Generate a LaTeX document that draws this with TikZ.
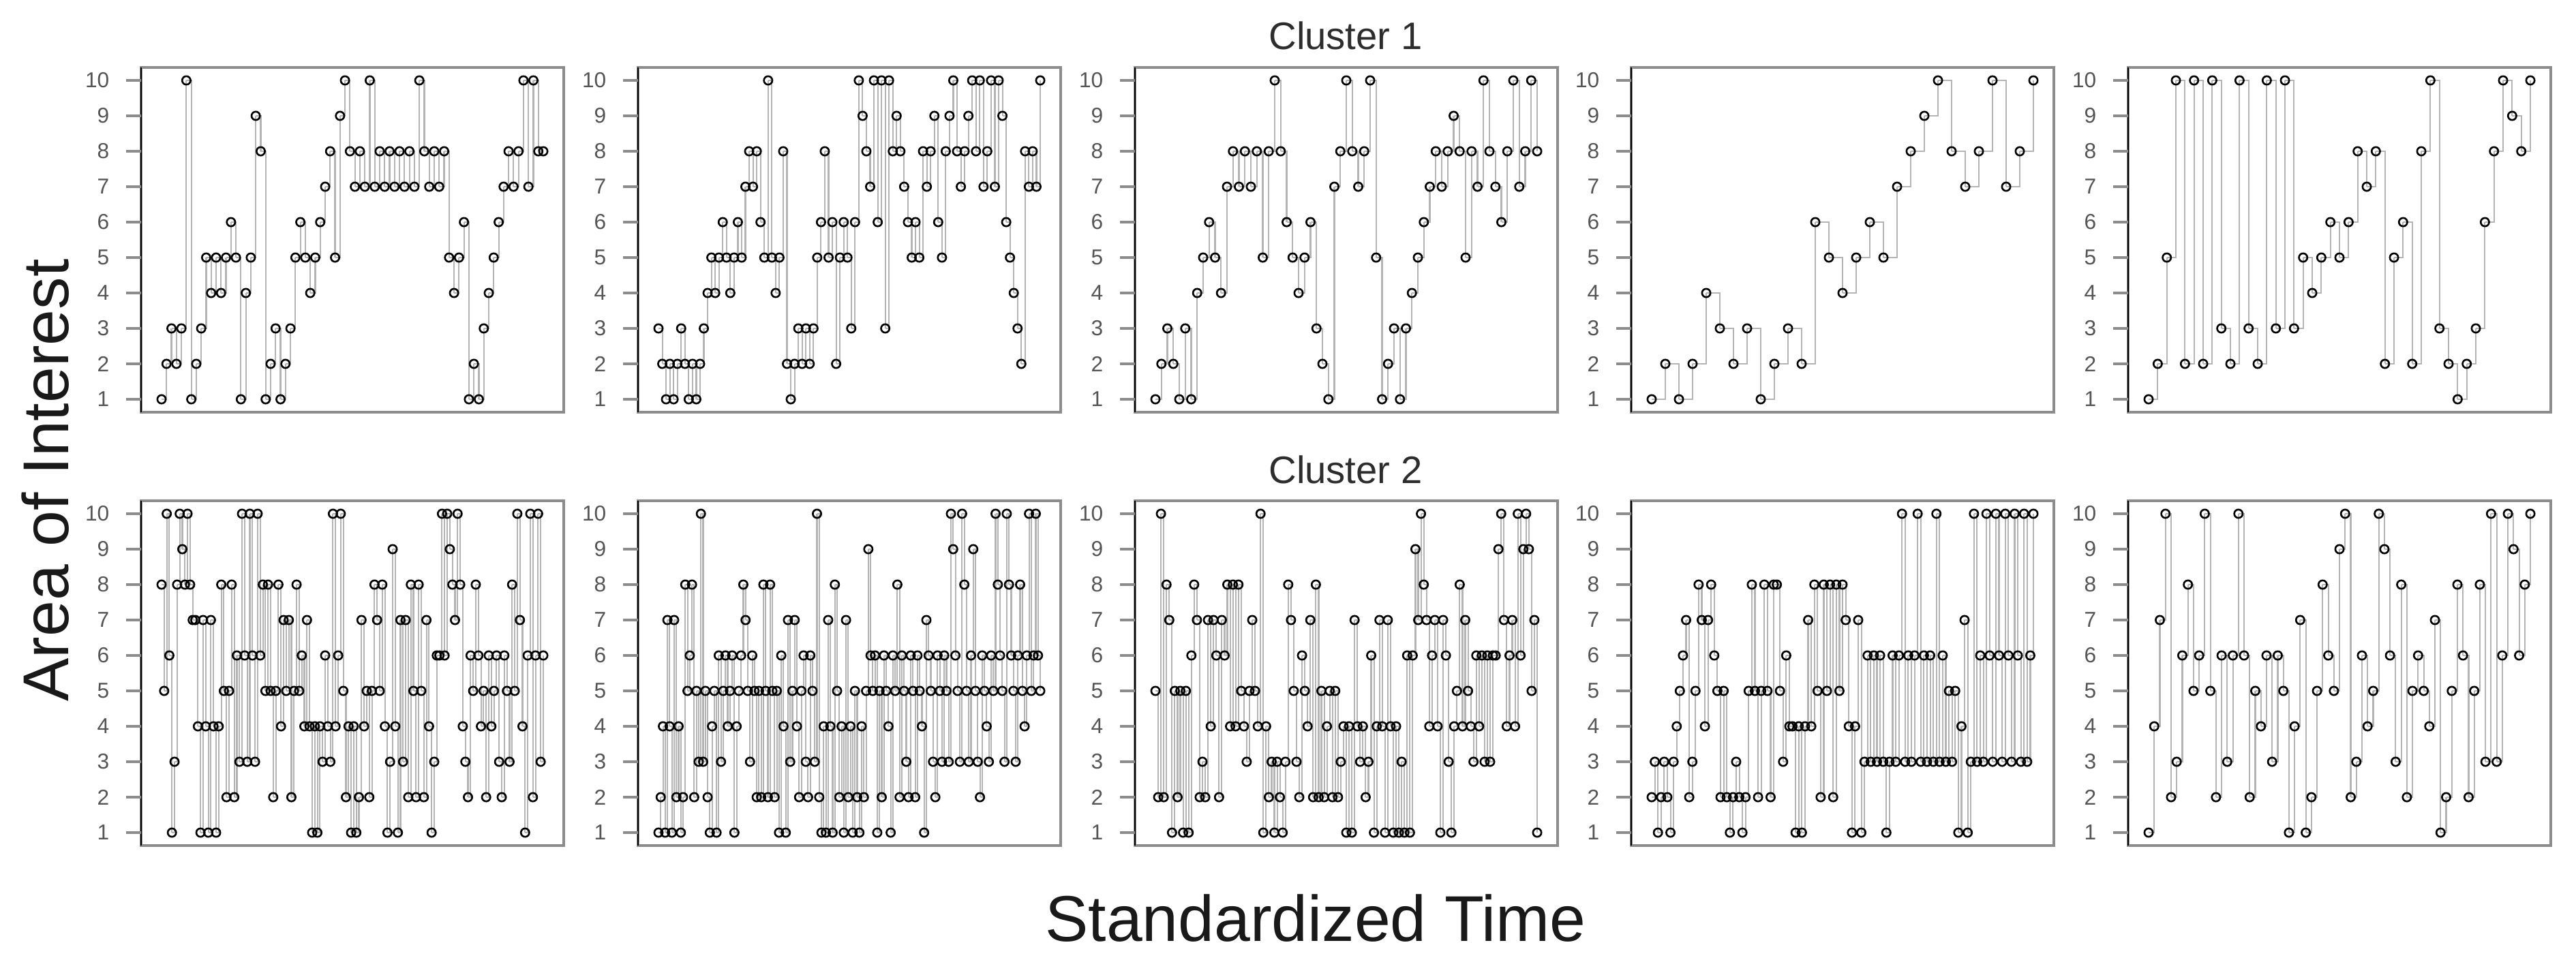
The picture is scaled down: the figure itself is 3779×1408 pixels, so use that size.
\documentclass[tikz,border=0pt]{standalone}
\usepackage{fontspec}
\setmainfont{Liberation Sans}
\definecolor{tickgray}{RGB}{85,85,85}
\definecolor{framegray}{RGB}{140,140,140}
\definecolor{stepgray}{RGB}{180,180,180}
\definecolor{titlegray}{RGB}{45,45,45}
\newcount\aoicount
\newcommand\aoipanel[4]{%
    \global\aoicount=0
    \foreach \v in {#4} {\global\advance\aoicount by 1}
    \pgfmathsetmacro\aoistep{560/(\the\aoicount-1)}
    \foreach \v [count=\i, remember=\v as \lastv (initially 1)] in {#4} {
        \ifnum\i>1
            \draw[stepline] ({#2+30+(\i-2)*\aoistep},{#3+(10-\lastv)*52}) -| ({#2+30+(\i-1)*\aoistep},{#3+(10-\v)*52});
        \fi
    }
    \foreach \v [count=\i] in {#4}
        \draw[aoipoint] ({#2+30+(\i-1)*\aoistep},{#3+(10-\v)*52}) circle[radius=1.75pt];
    \draw[panelframe] (#2,{#3-19}) rectangle ({#2+620},{#3+487});
    \draw[leftaxis] (#2,{#3-19}) -- (#2,{#3+487});
    \foreach \t in {1,...,10} {
        \draw[ytick] ({#2-22},{#3+(10-\t)*52}) -- (#2,{#3+(10-\t)*52});
        \node[ticklabel] (#1-\t) at ({#2-46},{#3+(10-\t)*52}) {\t};
    }
}
\begin{document}
\begin{tikzpicture}[x=0.01cm, y=-0.01cm,
            stepline/.style = {draw=stepgray, line width=0.6pt},
            aoipoint/.style = {draw=black, line width=0.75pt},
            panelframe/.style = {draw=framegray, line width=1.3pt},
            leftaxis/.style = {draw=black, line width=0.7pt},
            ytick/.style = {draw=framegray, line width=1.1pt},
            ticklabel/.style = {anchor=east, inner sep=0pt, text=tickgray, font=\fontsize{9}{10}\selectfont},
            paneltitle/.style = {inner sep=0pt, text=titlegray, font=\fontsize{16}{18}\selectfont},
            axislabel/.style = {inner sep=0pt, text=black!90, font=\fontsize{27}{30}\selectfont}]
    \useasboundingbox (0,0) rectangle (3779,1408);
    \fill[white] (0,0) rectangle (3779,1408);
    \aoipanel{a1}{207}{118}{1,2,3,2,3,10,1,2,3,5,4,5,4,5,6,5,1,4,5,9,8,1,2,3,1,2,3,5,6,5,4,5,6,7,8,5,9,10,8,7,8,7,10,7,8,7,8,7,8,7,8,7,10,8,7,8,7,8,5,4,5,6,1,2,1,3,4,5,6,7,8,7,8,10,7,10,8,8}
    \aoipanel{a2}{936}{118}{3,2,1,2,1,2,3,2,1,2,1,2,3,4,5,4,5,6,5,4,5,6,5,7,8,7,8,6,5,10,5,4,5,8,2,1,2,3,2,3,2,3,5,6,8,5,6,2,5,6,5,3,6,10,9,8,7,10,6,10,3,10,8,9,8,7,6,5,6,5,8,7,8,9,6,5,8,9,10,8,7,8,9,10,8,10,7,8,10,7,10,9,6,5,4,3,2,8,7,8,7,10}
    \aoipanel{a3}{1665}{118}{1,2,3,2,1,3,1,4,5,6,5,4,7,8,7,8,7,8,5,8,10,8,6,5,4,5,6,3,2,1,7,8,10,8,7,8,10,5,1,2,3,1,3,4,5,6,7,8,7,8,9,8,5,8,7,10,8,7,6,8,10,7,8,10,8}
    \aoipanel{a4}{2393}{118}{1,2,1,2,4,3,2,3,1,2,3,2,6,5,4,5,6,5,7,8,9,10,8,7,8,10,7,8,10}
    \aoipanel{a5}{3122}{118}{1,2,5,10,2,10,2,10,3,2,10,3,2,10,3,10,3,5,4,5,6,5,6,8,7,8,2,5,6,2,8,10,3,2,1,2,3,6,8,10,9,8,10}
    \aoipanel{b1}{207}{754}{8,5,10,6,1,3,8,10,9,8,10,8,7,7,4,1,7,4,1,7,4,1,4,8,5,2,5,8,2,6,3,10,6,3,10,6,3,10,6,8,5,8,5,2,5,8,4,7,5,7,2,5,8,5,6,4,7,4,1,4,1,4,3,6,4,3,10,4,6,10,5,2,4,1,4,1,2,7,4,5,2,5,8,7,5,8,4,1,3,9,4,1,7,3,7,2,8,5,2,8,5,2,7,4,1,3,6,6,10,6,10,9,8,7,10,8,4,3,2,6,5,8,6,4,5,2,6,4,5,6,3,2,6,5,3,8,5,10,7,4,1,6,10,2,6,10,3,6}
    \aoipanel{b2}{936}{754}{1,2,4,1,7,4,1,7,2,4,1,2,8,5,6,8,2,5,3,10,3,5,2,1,4,5,1,6,3,5,6,4,5,6,1,4,5,6,8,7,5,3,6,5,2,5,2,8,5,2,8,5,2,5,1,6,4,1,7,3,5,7,4,2,5,6,3,2,6,5,3,10,2,1,4,1,7,4,1,8,5,2,4,1,7,2,4,1,5,2,1,4,2,5,9,6,5,6,1,5,2,6,5,4,1,6,5,8,2,6,5,3,2,6,5,2,6,5,4,1,7,6,5,3,2,6,5,3,6,5,3,10,9,6,5,3,10,8,5,3,6,9,5,3,2,6,5,4,3,6,5,10,8,6,5,3,10,8,6,5,3,6,8,5,4,6,10,5,6,10,6,5}
    \aoipanel{b3}{1665}{754}{5,2,10,2,8,7,1,5,2,5,1,5,1,6,8,7,2,3,2,7,4,7,6,2,7,6,8,4,8,4,8,5,4,3,5,7,5,4,10,1,4,2,3,1,3,2,1,3,8,7,5,3,2,6,5,4,7,2,8,2,5,2,4,5,2,5,2,3,4,1,4,1,7,4,3,4,2,3,6,1,4,7,4,1,7,4,1,4,1,3,1,6,1,6,9,7,10,8,7,4,6,7,4,1,7,6,3,1,4,5,8,4,7,5,4,3,6,4,6,3,6,3,6,6,9,10,7,4,6,7,4,10,6,9,10,9,5,7,1}
    \aoipanel{b4}{2393}{754}{2,3,1,2,3,2,1,3,4,5,6,7,2,3,5,8,7,4,7,8,6,5,2,5,2,1,2,3,2,1,2,5,8,5,2,5,8,5,2,8,8,5,3,6,4,4,1,4,1,4,7,4,8,5,2,8,5,8,2,8,5,8,7,4,1,4,7,1,3,6,3,6,3,6,3,1,3,6,3,6,10,3,6,3,6,10,3,6,3,6,3,10,3,6,3,5,3,5,1,4,7,1,3,10,3,6,3,10,6,3,10,6,3,10,6,3,10,6,3,10,3,6,10}
    \aoipanel{b5}{3122}{754}{1,4,7,10,2,3,6,8,5,6,10,5,2,6,3,6,10,6,2,5,4,6,3,6,5,1,4,7,1,2,5,8,6,5,9,10,2,3,6,4,5,10,9,6,3,8,2,5,6,5,4,7,1,2,5,8,6,2,5,8,3,10,3,6,10,9,6,8,10}
    \node[paneltitle, anchor=base] (cluster1) at (1974,72) {Cluster 1};
    \node[paneltitle, anchor=base] (cluster2) at (1974,709) {Cluster 2};
    \node[axislabel, anchor=base] (timelabel) at (1930,1381) {Standardized Time};
    \node[axislabel, anchor=base, rotate=90] (aoilabel) at (100,705) {Area of Interest};
\end{tikzpicture}
\end{document}
